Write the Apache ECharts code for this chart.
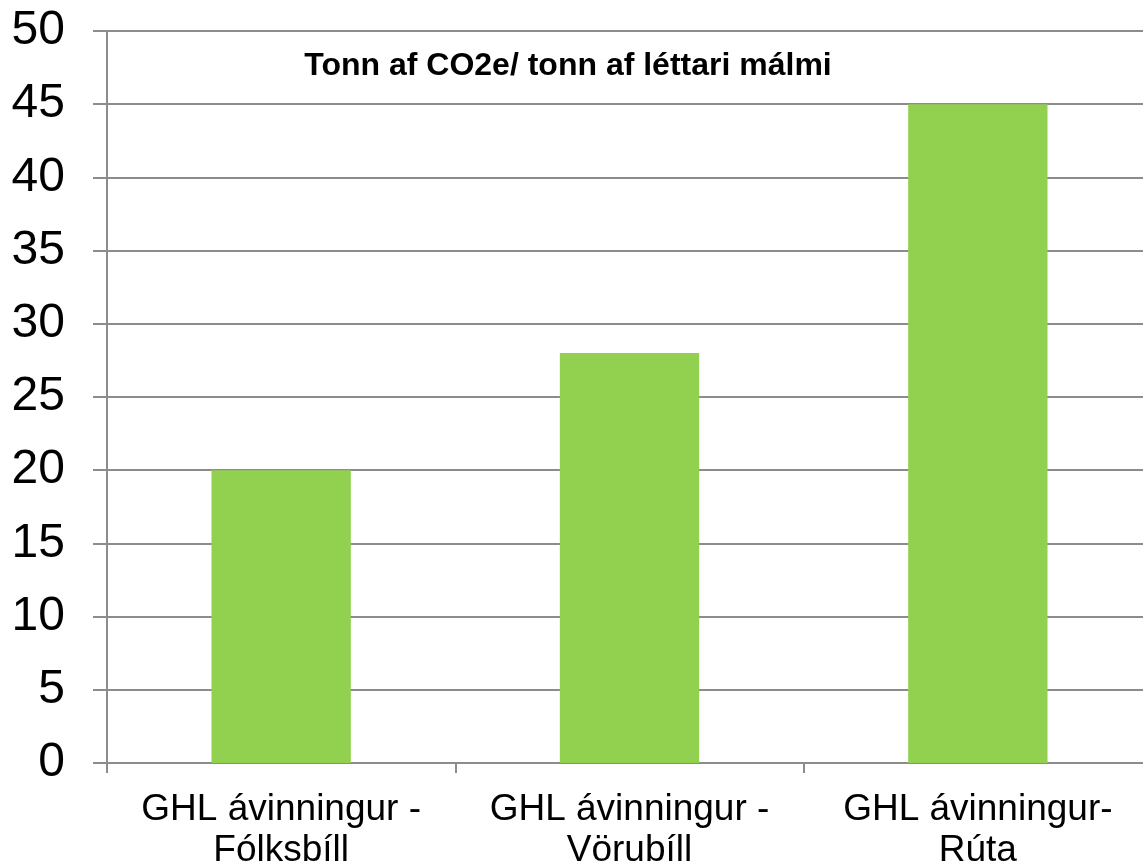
<!DOCTYPE html>
<html><head><meta charset="utf-8">
<script src="https://cdn.jsdelivr.net/npm/echarts@6/dist/echarts.min.js"></script>
<style>html,body{margin:0;padding:0;background:#fff}#c{width:1143px;height:865px}</style>
</head><body><div id="c"></div>
<script>
const categories = ['GHL ávinningur -\nFólksbíll', 'GHL ávinningur -\nVörubíll', 'GHL ávinningur-\nRúta'];
const values = [20, 28, 45];
const titleText = 'Tonn af CO2e/ tonn af léttari málmi';

const chart = echarts.init(document.getElementById('c'));
chart.setOption({
  animation: false,
  backgroundColor: '#fff',
  title: {
    text: titleText, left: 563, top: 45, textAlign: 'center',
    textStyle: {fontFamily: 'Liberation Sans', fontSize: 32, fontWeight: 'bold', color: '#000'}
  },
  grid: {left: 107, width: 1045, top: 31, bottom: 102, containLabel: false, outerBoundsMode: 'none'},
  xAxis: {
    type: 'category', data: categories,
    axisLine: {show: true, lineStyle: {color: '#8c8c8c', width: 2}},
    axisTick: {show: true, alignWithLabel: false, length: 10, lineStyle: {color: '#8c8c8c', width: 2}},
    axisLabel: {fontFamily: 'Liberation Sans', fontSize: 37, color: '#000', margin: 26, lineHeight: 41, interval: 0}
  },
  yAxis: {
    type: 'value', min: 0, max: 50, interval: 5,
    axisLine: {show: true, lineStyle: {color: '#8c8c8c', width: 2}},
    axisTick: {show: true, length: 14, lineStyle: {color: '#8c8c8c', width: 2}},
    splitLine: {show: true, lineStyle: {color: '#8c8c8c', width: 2}},
    axisLabel: {fontFamily: 'Liberation Sans', fontSize: 48, color: '#000', margin: 42}
  },
  series: [{
    type: 'bar', data: values, barWidth: '40%',
    itemStyle: {color: '#92D050'}
  }]
});
</script></body></html>
